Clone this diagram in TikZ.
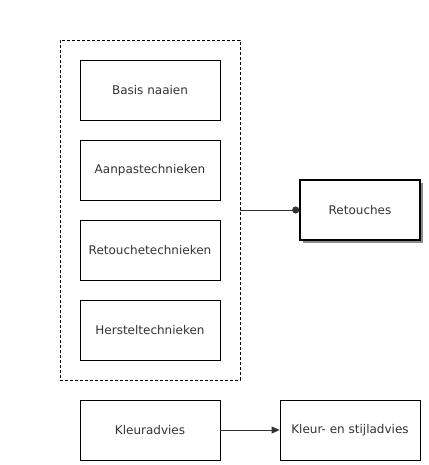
\documentclass[tikz,border=0pt]{standalone}
\usepackage{fontspec}
\setmainfont{DejaVu Sans}
\usetikzlibrary{arrows.meta,shadows}
\begin{document}
\begin{tikzpicture}[x=1pt,y=-1pt,
  box/.style={draw=black,line width=0.8pt,fill=white,minimum width=140pt,minimum height=60pt,inner sep=0pt,font=\fontsize{12}{14}\selectfont,text=black!80},
  bigbox/.style={box,minimum width=120pt,line width=1.6pt,drop shadow={shadow xshift=2.5pt,shadow yshift=-2.5pt,fill=black!45,opacity=1}},
  container/.style={draw=black,dashed,dash pattern=on 3pt off 2pt,line width=0.8pt,minimum width=180pt,minimum height=340pt,inner sep=0pt},
  conn/.style={draw=black!80,line width=0.8pt}]
\useasboundingbox (0,0) rectangle (428,465);
\node[container] (grp) at (150,210) {};
\node[box] (basis) at (150,90) {Basis naaien};
\node[box] (aanpas) at (150,170) {Aanpastechnieken};
\node[box] (retech) at (150,250) {Retouchetechnieken};
\node[box] (herstel) at (150,330) {Hersteltechnieken};
\node[bigbox] (ret) at (360,210) {Retouches};
\node[box] (kleur) at (150,430) {Kleuradvies};
\node[box] (stijl) at (350,430) {Kleur- en stijladvies};
\draw[conn,-{Circle[length=7pt]}] (grp.east) -- (ret.west);
\draw[conn,-{Triangle[length=8pt,width=7pt]}] (kleur.east) -- (stijl.west);
\end{tikzpicture}
\end{document}
